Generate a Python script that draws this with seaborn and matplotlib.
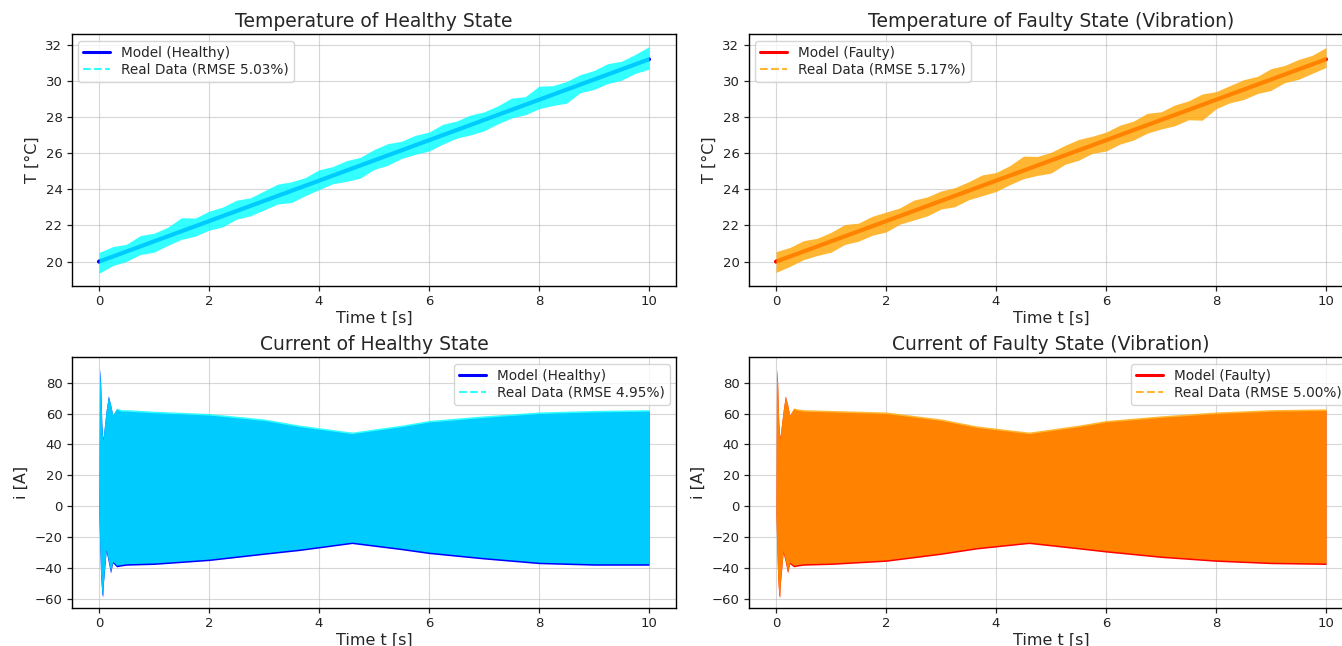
import numpy as np
import matplotlib
matplotlib.use("Agg")
import matplotlib.pyplot as plt
from matplotlib.lines import Line2D
import seaborn as sns

# ---- temperature: model line (start / end) ----
T_MODEL_T = [0.0, 10.0]
T_MODEL_HEALTHY = [20.0, 31.2]
T_MODEL_FAULTY = [20.0, 31.2]

# ---- temperature: real data noise band, read as offsets from the model every 0.25 s ----
T_KNOTS = np.arange(0, 10.01, 0.25)
T_HEALTHY_UP = [0.5, 0.55, 0.4, 0.6, 0.45, 0.5, 0.75, 0.45, 0.55, 0.5, 0.6, 0.45, 0.55, 0.65,
                0.5, 0.45, 0.6, 0.5, 0.55, 0.45, 0.6, 0.65, 0.5, 0.55, 0.45, 0.6, 0.5, 0.55,
                0.45, 0.5, 0.65, 0.45, 0.75, 0.5, 0.45, 0.55, 0.5, 0.6, 0.45, 0.55, 0.7]
T_HEALTHY_LO = [-0.65, -0.5, -0.55, -0.45, -0.6, -0.5, -0.45, -0.55, -0.5, -0.6, -0.45, -0.55,
                -0.5, -0.45, -0.65, -0.55, -0.5, -0.45, -0.6, -0.7, -0.5, -0.55, -0.45, -0.5,
                -0.6, -0.5, -0.45, -0.55, -0.6, -0.5, -0.45, -0.55, -0.5, -0.6, -0.75, -0.45,
                -0.55, -0.5, -0.6, -0.5, -0.55]
T_FAULTY_UP = [0.55, 0.5, 0.6, 0.45, 0.5, 0.65, 0.45, 0.55, 0.5, 0.45, 0.6, 0.5, 0.55, 0.45,
               0.5, 0.6, 0.45, 0.55, 0.8, 0.5, 0.45, 0.55, 0.6, 0.5, 0.45, 0.55, 0.5, 0.65,
               0.45, 0.55, 0.5, 0.6, 0.45, 0.5, 0.55, 0.45, 0.6, 0.5, 0.55, 0.5, 0.65]
T_FAULTY_LO = [-0.6, -0.55, -0.45, -0.5, -0.6, -0.45, -0.55, -0.5, -0.6, -0.45, -0.5, -0.55,
               -0.45, -0.6, -0.5, -0.55, -0.6, -0.5, -0.45, -0.55, -0.7, -0.5, -0.55, -0.45,
               -0.6, -0.5, -0.55, -0.45, -0.5, -0.6, -0.55, -0.85, -0.5, -0.45, -0.55, -0.5,
               -0.6, -0.45, -0.55, -0.5, -0.45]

# ---- current: envelope of the 50 Hz oscillation (upper / lower) ----
I_KNOTS = [0.0, 0.01, 0.03, 0.05, 0.067, 0.08, 0.13, 0.17, 0.21, 0.25, 0.32, 0.4, 0.5,
           1, 2, 3, 3.65, 4.6, 5.5, 6, 7, 8, 9, 10]
I_HEALTHY_MODEL_UP = [0, 89, 80, 55, 44, 46, 62, 71.5, 66, 59, 63, 61.5, 61.5,
                      60.5, 59, 55.5, 51.5, 47, 51.5, 54.5, 57.5, 60, 61, 61.5]
I_HEALTHY_MODEL_LO = [-5, -22, -45, -56, -58.5, -50, -29, -36, -43, -36.5, -39, -38.5, -38,
                      -37.5, -35, -31, -28.5, -24, -28, -30.5, -34, -37, -38, -38]
I_HEALTHY_REAL_UP = [0, 88, 79, 54, 43, 46, 62, 71, 66, 59, 63.5, 62.5, 62.5,
                     61.5, 60, 56.5, 52.5, 48, 52.5, 55.5, 58.5, 61, 62, 62.5]
I_HEALTHY_REAL_LO = [-4, -21, -44, -55, -57.5, -49, -28, -35, -42, -35.5, -38, -37.5, -37,
                     -36.5, -34, -30, -27.5, -23, -27, -29.5, -33, -36, -37, -37]

I_FAULTY_MODEL_UP = [0, 88.5, 80, 55, 45, 47, 62, 71.5, 66, 59, 63, 62, 61.5,
                     61, 60, 55.5, 51, 47, 51.5, 54.5, 57.5, 60, 61.5, 62]
I_FAULTY_MODEL_LO = [-5, -22, -46, -57, -59, -50, -30, -36, -43, -37, -39, -38.5, -38,
                     -37.5, -35.5, -31, -27.5, -24, -27.5, -29.5, -33, -35.5, -37, -37.5]
I_FAULTY_REAL_UP = [0, 88, 79, 54, 44, 47, 62, 71, 66, 59, 63.5, 63, 62.5,
                    62, 61, 56.5, 52, 48, 52.5, 55.5, 58.5, 61, 62.5, 63]
I_FAULTY_REAL_LO = [-4, -21, -45, -56, -58, -49, -29, -35, -42, -36, -38, -37.5, -37,
                    -36.5, -34.5, -30, -26.5, -23, -26.5, -28.5, -32, -34.5, -36, -36.5]

RMSE = {"T_healthy": "5.03%", "T_faulty": "5.17%", "I_healthy": "4.95%", "I_faulty": "5.00%"}

sns.set_theme(style="ticks", rc={
    "axes.edgecolor": "black",
    "axes.linewidth": 1.0,
    "axes.grid": True,
    "grid.color": "#b0b0b0",
    "grid.alpha": 0.5,
    "grid.linewidth": 0.8,
    "xtick.color": "#222222",
    "ytick.color": "#222222",
})
plt.rcParams["font.family"] = ["DejaVu Sans"]

fig = plt.figure(figsize=(13.42, 6.46), dpi=100)
W, H = 1342, 646


def add_ax(left_px, top_px, right_px, bottom_px):
    return fig.add_axes([left_px / W, 1 - bottom_px / H,
                         (right_px - left_px) / W, (bottom_px - top_px) / H])


ax_th = add_ax(71.5, 34, 676.5, 286)
ax_tf = add_ax(748.5, 34, 1353.5, 286)
ax_ih = add_ax(71.5, 357, 676.5, 608)
ax_if = add_ax(748.5, 357, 1353.5, 608)


def finish(ax, c_model, c_real, state, rmse, title, loc):
    ax.set_xlim(-0.5, 10.5)
    ax.set_xticks(np.arange(0, 11, 2))
    ax.set_xlabel("Time t [s]", fontsize=11.5, labelpad=2)
    ax.set_title(title, fontsize=13.5, pad=5)
    ax.tick_params(labelsize=9.5, length=3.5, width=0.9, pad=3)
    handles = [Line2D([], [], color=c_model, lw=2.2),
               Line2D([], [], color=c_real, lw=1.5, ls="--", alpha=0.8)]
    ax.legend(handles, [f"Model ({state})", f"Real Data (RMSE {rmse})"], loc=loc,
              fontsize=9.8, frameon=True, framealpha=0.8, edgecolor="#cccccc",
              fancybox=True, labelspacing=0.25, borderpad=0.35)


def temp_panel(ax, model_T, up, lo, c_model, c_real, state, rmse, title):
    sns.lineplot(x=T_MODEL_T, y=model_T, ax=ax, color=c_model, lw=3, legend=False, zorder=2)
    centre = np.interp(T_KNOTS, T_MODEL_T, model_T)
    ax.fill_between(T_KNOTS, centre + np.array(lo), centre + np.array(up),
                    color=c_real, alpha=0.8, lw=0, zorder=3)
    ax.set_ylim(18.65, 32.6)
    ax.set_yticks(np.arange(20, 33, 2))
    ax.set_ylabel("T [°C]", fontsize=11.5)
    finish(ax, c_model, c_real, state, rmse, title, "upper left")


def current_panel(ax, m_up, m_lo, r_up, r_lo, c_model, c_real, state, rmse, title):
    ax.fill_between(I_KNOTS, m_lo, m_up, color=c_model, lw=0, zorder=2)
    ax.fill_between(I_KNOTS, r_lo, r_up, color=c_real, alpha=0.8, lw=0, zorder=3)
    ax.set_ylim(-65.6, 96.5)
    ax.set_yticks(np.arange(-60, 81, 20))
    ax.set_ylabel("i [A]", fontsize=11.5)
    finish(ax, c_model, c_real, state, rmse, title, "upper right")


temp_panel(ax_th, T_MODEL_HEALTHY, T_HEALTHY_UP, T_HEALTHY_LO, "blue", "cyan",
           "Healthy", RMSE["T_healthy"], "Temperature of Healthy State")
temp_panel(ax_tf, T_MODEL_FAULTY, T_FAULTY_UP, T_FAULTY_LO, "red", "orange",
           "Faulty", RMSE["T_faulty"], "Temperature of Faulty State (Vibration)")
current_panel(ax_ih, I_HEALTHY_MODEL_UP, I_HEALTHY_MODEL_LO, I_HEALTHY_REAL_UP,
              I_HEALTHY_REAL_LO, "blue", "cyan", "Healthy", RMSE["I_healthy"],
              "Current of Healthy State")
current_panel(ax_if, I_FAULTY_MODEL_UP, I_FAULTY_MODEL_LO, I_FAULTY_REAL_UP,
              I_FAULTY_REAL_LO, "red", "orange", "Faulty", RMSE["I_faulty"],
              "Current of Faulty State (Vibration)")

fig.savefig("out.png", dpi=100)
